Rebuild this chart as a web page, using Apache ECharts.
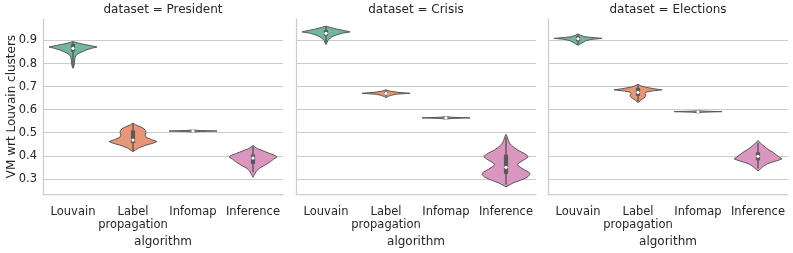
<!DOCTYPE html>
<html>
<head>
<meta charset="utf-8">
<script src="https://cdn.jsdelivr.net/npm/echarts@6/dist/echarts.min.js"></script>
<style>
html,body{margin:0;padding:0;background:#fff;}
#chart{width:793px;height:253px;}
</style>
</head>
<body>
<div id="chart"></div>
<script>
// ---------- data ----------
const datasets = ['President', 'Crisis', 'Elections'];
const algorithms = ['Louvain', 'Label\npropagation', 'Infomap', 'Inference'];
const tickValues = [0.3, 0.4, 0.5, 0.6, 0.7, 0.8, 0.9];

// violin profiles: [value, relative density (0..1)]
const presLouvain = [[0.895,0],[0.89,0.17],[0.884,0.42],[0.878,0.7],[0.872,1.0],[0.866,0.78],[0.86,0.58],[0.853,0.42],[0.845,0.25],[0.837,0.14],[0.828,0.09],[0.815,0.07],[0.80,0.06],[0.79,0.04],[0.78,0]];
const presLabel = [[0.542,0],[0.535,0.1],[0.528,0.25],[0.52,0.42],[0.51,0.52],[0.50,0.54],[0.49,0.5],[0.48,0.55],[0.47,0.77],[0.462,1.0],[0.455,0.85],[0.445,0.5],[0.435,0.25],[0.425,0.1],[0.418,0]];
const presInfomap = [[0.503,0],[0.5055,0.3],[0.5075,1.0],[0.5095,0.3],[0.512,0]];
const presInference = [[0.445,0],[0.438,0.08],[0.43,0.2],[0.42,0.46],[0.41,0.7],[0.40,0.95],[0.395,1.0],[0.385,0.85],[0.375,0.73],[0.365,0.58],[0.355,0.42],[0.345,0.25],[0.335,0.15],[0.32,0.06],[0.307,0]];

const crisLouvain = [[0.962,0],[0.956,0.2],[0.949,0.46],[0.942,0.8],[0.937,1.0],[0.932,0.7],[0.925,0.46],[0.918,0.29],[0.91,0.17],[0.90,0.08],[0.89,0.04],[0.882,0]];
const crisLabel = [[0.686,0],[0.68,0.17],[0.675,0.5],[0.671,1.0],[0.667,0.42],[0.662,0.2],[0.657,0.08],[0.652,0]];
const crisInfomap = [[0.559,0],[0.562,0.25],[0.5645,1.0],[0.567,0.25],[0.570,0]];
const crisInference = [[0.493,0],[0.48,0.06],[0.466,0.1],[0.455,0.15],[0.445,0.23],[0.435,0.35],[0.424,0.5],[0.411,0.75],[0.40,0.9],[0.395,0.92],[0.385,0.79],[0.375,0.63],[0.365,0.48],[0.357,0.5],[0.348,0.63],[0.338,0.79],[0.328,0.96],[0.32,1.0],[0.31,0.92],[0.30,0.75],[0.29,0.5],[0.282,0.29],[0.275,0.17],[0.266,0]];

const elecLouvain = [[0.928,0],[0.922,0.12],[0.916,0.29],[0.912,0.67],[0.909,1.0],[0.905,0.58],[0.899,0.33],[0.892,0.21],[0.885,0.1],[0.879,0]];
const elecLabel = [[0.710,0],[0.703,0.12],[0.697,0.33],[0.69,0.71],[0.686,1.0],[0.681,0.58],[0.676,0.33],[0.67,0.29],[0.663,0.33],[0.656,0.31],[0.648,0.21],[0.64,0.1],[0.631,0]];
const elecInfomap = [[0.586,0],[0.589,0.2],[0.5915,1.0],[0.5935,0.25],[0.5955,0]];
const elecInference = [[0.466,0],[0.455,0.1],[0.445,0.21],[0.435,0.33],[0.425,0.46],[0.415,0.63],[0.405,0.75],[0.395,0.88],[0.387,1.0],[0.38,0.83],[0.372,0.58],[0.365,0.38],[0.357,0.25],[0.348,0.15],[0.34,0.06],[0.335,0]];

// inner box stats: [whiskerLow, q1, median, q3, whiskerHigh] per algorithm
const presBox = [[0.78,0.852,0.866,0.884,0.895],[0.42,0.455,0.468,0.51,0.54],[0.505,0.506,0.5075,0.509,0.51],[0.33,0.365,0.39,0.405,0.44]];
const crisBox = [[0.89,0.921,0.931,0.945,0.958],[0.657,0.666,0.671,0.677,0.684],[0.562,0.563,0.5645,0.566,0.567],[0.275,0.322,0.35,0.405,0.48]];
const elecBox = [[0.883,0.897,0.907,0.918,0.926],[0.635,0.66,0.675,0.695,0.707],[0.588,0.5895,0.591,0.5925,0.594],[0.345,0.38,0.398,0.415,0.455]];

const violins = [
  [presLouvain, presLabel, presInfomap, presInference],
  [crisLouvain, crisLabel, crisInfomap, crisInference],
  [elecLouvain, elecLabel, elecInfomap, elecInference]
];
const boxes = [presBox, crisBox, elecBox];

// ---------- styling / layout ----------
const palette = ['#71b6a0', '#e99675', '#95a3c3', '#db96c0'];
const edgeColor = '#595959';
const textColor = '#262626';
const spineColor = '#cccccc';
const gridLefts = [43, 296, 548];
const gridWidth = 240;
const gridTop = 19;
const gridHeight = 184;
const yMin = 0.234, yMax = 0.993;

const chart = echarts.init(document.getElementById('chart'), null, {renderer: 'canvas'});

function makeRender(panel) {
  return function (params, api) {
    const idx = api.value(0);
    const prof = violins[panel][idx];
    const box = boxes[panel][idx];
    const cx = api.coord([idx, yMin])[0];
    const band = api.size([1, 0])[0];
    const maxHalf = band * 0.4;
    const right = [], left = [];
    for (let i = 0; i < prof.length; i++) {
      const py = api.coord([idx, prof[i][0]])[1];
      right.push([cx + prof[i][1] * maxHalf, py]);
      left.unshift([cx - prof[i][1] * maxHalf, py]);
    }
    const pts = right.concat(left);
    const yW0 = api.coord([idx, box[0]])[1];
    const yQ1 = api.coord([idx, box[1]])[1];
    const yMed = api.coord([idx, box[2]])[1];
    const yQ3 = api.coord([idx, box[3]])[1];
    const yW1 = api.coord([idx, box[4]])[1];
    return {
      type: 'group',
      children: [
        {type: 'polygon', shape: {points: pts}, style: {fill: palette[idx], stroke: edgeColor, lineWidth: 1}},
        {type: 'line', shape: {x1: cx, y1: yW0, x2: cx, y2: yW1}, style: {stroke: edgeColor, lineWidth: 1.4}},
        {type: 'line', shape: {x1: cx, y1: yQ1, x2: cx, y2: yQ3}, style: {stroke: edgeColor, lineWidth: 4.2}},
        {type: 'circle', shape: {cx: cx, cy: yMed, r: 1.6}, style: {fill: '#ffffff', stroke: null}}
      ]
    };
  };
}

const grid = [], xAxis = [], yAxis = [], series = [], title = [];
for (let p = 0; p < 3; p++) {
  grid.push({left: gridLefts[p], top: gridTop, width: gridWidth, height: gridHeight});
  title.push({
    text: 'dataset = ' + datasets[p],
    left: gridLefts[p] + gridWidth / 2,
    top: 4,
    textAlign: 'center',
    padding: 0,
    textStyle: {fontSize: 12, fontWeight: 'normal', color: textColor, fontFamily: 'DejaVu Sans'}
  });
  xAxis.push({
    type: 'category', gridIndex: p, data: algorithms,
    axisLine: {show: true, lineStyle: {color: spineColor, width: 1.25}},
    axisTick: {show: false},
    splitLine: {show: false},
    axisLabel: {interval: 0, fontSize: 11.5, color: textColor, lineHeight: 13, margin: 11, fontFamily: 'DejaVu Sans'},
    name: 'algorithm', nameLocation: 'middle', nameGap: 32,
    nameTextStyle: {fontSize: 12, color: textColor, fontFamily: 'DejaVu Sans'}
  });
  yAxis.push({
    type: 'value', gridIndex: p, min: yMin, max: yMax,
    axisLine: {show: true, lineStyle: {color: spineColor, width: 1.25}},
    axisTick: {show: false},
    axisLabel: {show: false},
    splitLine: {show: false},
    name: p === 0 ? 'VM wrt Louvain clusters' : '',
    nameLocation: 'middle', nameGap: 25, nameRotate: 90,
    nameTextStyle: {fontSize: 12, color: textColor, fontFamily: 'DejaVu Sans'}
  });
  series.push({
    type: 'line', xAxisIndex: p, yAxisIndex: p, data: [], z: 1, silent: true,
    markLine: {
      z: 1, zlevel: 0,
      silent: true, symbol: ['none', 'none'], animation: false,
      lineStyle: {color: spineColor, width: 1, type: 'solid'},
      label: {show: p === 0, position: 'start', distance: 6, fontSize: 11.5, color: textColor, fontFamily: 'DejaVu Sans',
        formatter: function (prm) { return Number(prm.value).toFixed(1); }},
      emphasis: {disabled: true},
      data: tickValues.map(function (v) { return {yAxis: v}; })
    }
  });
  series.push({
    type: 'custom', xAxisIndex: p, yAxisIndex: p, z: 6,
    renderItem: makeRender(p),
    encode: {x: 0, y: 1},
    data: boxes[p].map(function (b, i) { return [i, b[2]]; })
  });
}

chart.setOption({
  animation: false,
  backgroundColor: '#ffffff',
  textStyle: {fontFamily: 'DejaVu Sans'},
  title: title,
  grid: grid,
  xAxis: xAxis,
  yAxis: yAxis,
  series: series
});
</script>
</body>
</html>
